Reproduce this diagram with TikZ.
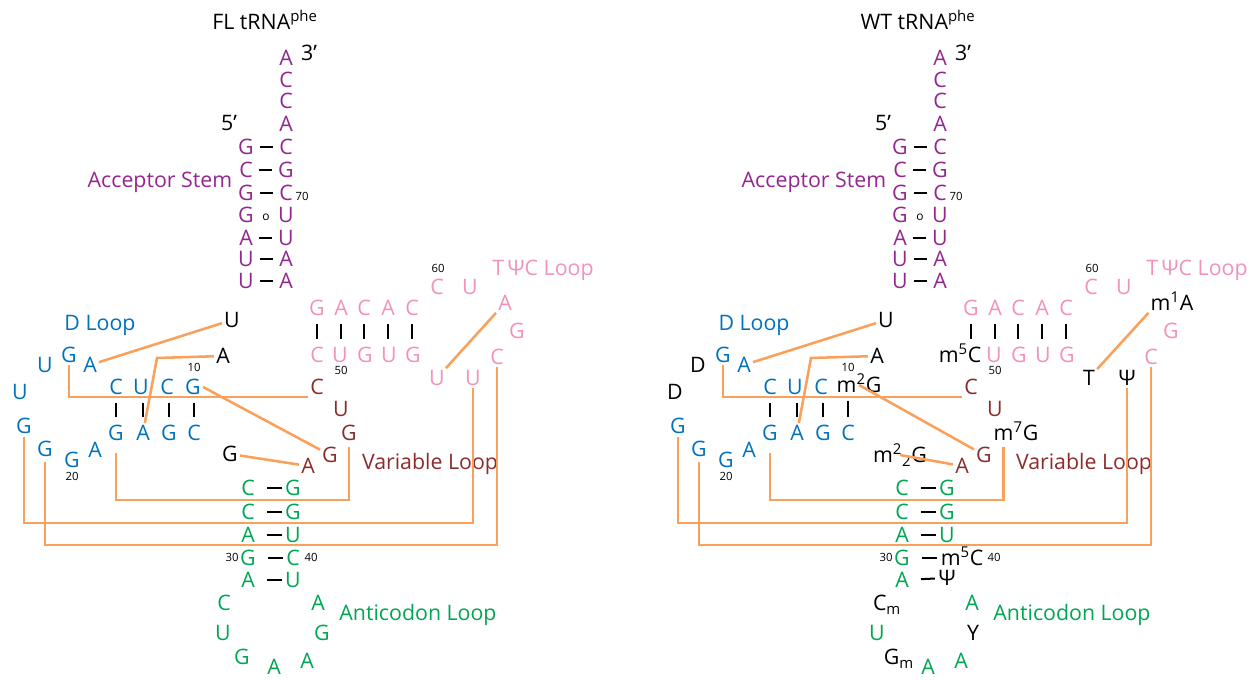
\documentclass[tikz,border=0pt]{standalone}
\usepackage{fontspec}
\setmainfont{Open Sans}
\usepackage{tikz}
\usepackage{xcolor}
\definecolor{accpurple}{HTML}{93278F}
\definecolor{dblue}{HTML}{0072BC}
\definecolor{tpink}{HTML}{F291BC}
\definecolor{vbrown}{HTML}{8A2C2C}
\definecolor{agreen}{HTML}{00A651}
\definecolor{tertorange}{HTML}{F9A05A}

% bases shared by both molecules, named <prefix>-n<position>
\newcommand{\trnabases}[1]{%
  % acceptor stem
  \foreach \n/\y/\l/\r in {1/147/G/C,2/170/C/G,3/193/G/C,4/215/G/U,5/238/A/U,6/259/U/A,7/281/U/A}{
    \node[acc] (#1-a\n) at (246,\y) {\l};
    \node[acc] (#1-b\n) at (286,\y) {\r};
  }
  \foreach \k/\y/\l in {73/124/A,74/101/C,75/80/C,76/58/A}
    \node[acc] (#1-n\k) at (286,\y) {\l};
  \node[lbl] (#1-p3) at (309,53) {3’};
  \node[lbl] (#1-p5) at (229,123) {5’};
  \node[acc] (#1-accl) at (160,180) {Acceptor Stem};
  \node[num] (#1-c70) at (302,197) {70};
  \node[wob] (#1-gu) at (266,217) {o};
  % D arm
  \node[lbl] (#1-n8) at (232,320) {U};
  \node[lbl] (#1-n9) at (223,356) {A};
  \foreach \n/\x/\l in {11/167/C,12/141/U,13/116/C}
    \node[dlp] (#1-n\n) at (\x,387) {\l};
  \foreach \n/\x/\l in {22/116/G,23/143/A,24/169/G,25/194/C}
    \node[dlp] (#1-n\n) at (\x,433) {\l};
  \foreach \n/\x/\y/\l in {14/90/365/A,15/69/355/G,18/24/426/G,19/45/449/G,20/72/460/G,21/95/450/A}
    \node[dlp] (#1-n\n) at (\x,\y) {\l};
  \node[dlp] (#1-dl) at (100,323) {D Loop};
  \node[num] (#1-c10) at (194,368) {10};
  \node[num] (#1-c20) at (72,477) {20};
  % anticodon arm
  \foreach \n/\y/\l in {27/488/C,28/512/C,29/535/A,30/558/G,31/580/A}
    \node[anc] (#1-n\n) at (248,\y) {\l};
  \foreach \n/\y/\l in {43/488/G,42/512/G,41/535/U}
    \node[anc] (#1-n\n) at (293,\y) {\l};
  \foreach \n/\x/\y/\l in {33/223/633/U,35/274/667/A,36/307/661/A,38/318/603/A}
    \node[anc] (#1-n\n) at (\x,\y) {\l};
  \node[anc] (#1-al) at (418,613) {Anticodon Loop};
  \node[num] (#1-c30) at (232,558) {30};
  % variable loop
  \foreach \n/\x/\y/\l in {44/308/466/A,45/330/455/G,47/341/409/U,48/317/387/C}
    \node[vlp] (#1-n\n) at (\x,\y) {\l};
  \node[vlp] (#1-vl) at (430,462) {Variable Loop};
  % T arm
  \foreach \n/\x/\l in {65/317/G,64/341/A,63/364/C,62/388/A,61/412/C}
    \node[tlp] (#1-n\n) at (\x,308) {\l};
  \foreach \n/\x/\l in {50/340/U,51/365/G,52/389/U,53/413/G}
    \node[tlp] (#1-n\n) at (\x,355) {\l};
  \foreach \n/\x/\y/\l in {56/497/357/C,57/517/331/G,59/470/287/U,60/437/287/C}
    \node[tlp] (#1-n\n) at (\x,\y) {\l};
  \node[tlp] (#1-tl) at (543,268) {T\,ΨC Loop};
  \node[num] (#1-c50) at (341,371) {50};
  \node[num] (#1-c60) at (438,269) {60};
}

% base pairs of the four stems
\newcommand{\trnapairs}[1]{%
  \foreach \n in {1,2,3,5,6,7}
    \draw[bond] (#1-a\n) -- (#1-b\n);
  \foreach \a/\b in {22/13,23/12,24/11,25/10}
    \draw[vbar] (#1-n\a) -- (#1-n\a |- #1-n\b);
  \foreach \a/\b in {65/49,64/50,63/51,62/52,61/53}
    \draw[vbar] (#1-n\a) -- (#1-n\a |- #1-n\b);
  \foreach \a/\b in {27/43,28/42,29/41,30/40,31/39}
    \draw[acbond] (#1-n\a) -- (#1-n\b);
}

\begin{document}
\begin{tikzpicture}[x=0.75pt,y=-0.75pt,
  nt/.style={font=\fontsize{16}{19}\selectfont, text height=11.4pt, text depth=0pt, inner sep=1.5pt},
  lbl/.style={nt, text=black},
  acc/.style={nt, text=accpurple},
  dlp/.style={nt, text=dblue},
  tlp/.style={nt, text=tpink},
  vlp/.style={nt, text=vbrown},
  anc/.style={nt, text=agreen},
  num/.style={font=\fontsize{8.5}{10}\selectfont, text height=6pt, text depth=0pt, inner sep=0pt},
  wob/.style={font=\fontsize{9}{10}\selectfont, inner sep=0pt},
  bond/.style={line width=1.5pt, shorten <=3pt, shorten >=3pt},
  acbond/.style={line width=1.5pt, shorten <=7.5pt, shorten >=1pt},
  vbar/.style={line width=1.5pt, shorten <=4.5pt, shorten >=12pt},
  tert/.style={tertorange, line width=1.9pt}]
\useasboundingbox (0,0) rectangle (1257,680);

% FL tRNA
\node[lbl] (L-title) at (265,22) {FL tRNA\textsuperscript{phe}};
\trnabases{L}
\node[dlp] (L-n16) at (45,365) {U};
\node[dlp] (L-n17) at (20,392) {U};
\node[dlp] (L-n10) at (193,387) {G};
\node[lbl] (L-n26) at (230,454) {G};
\node[tlp] (L-n49) at (317,355) {C};
\node[vlp] (L-n46) at (349,433) {G};
\node[tlp] (L-n58) at (505,303) {A};
\node[tlp] (L-n54) at (437,378) {U};
\node[tlp] (L-n55) at (473,378) {U};
\node[anc] (L-n40) at (293,558) {C};
\node[num] (L-c40) at (311,558) {40};
\node[anc] (L-n39) at (293,580) {U};
\node[anc] (L-n32) at (224,603) {C};
\node[anc] (L-n34) at (242,657) {G};
\node[anc] (L-n37) at (322,633) {G};
\trnapairs{L}
% tertiary contacts
\coordinate (L-k9) at (157,358);
\coordinate (L-h22) at (200,500);
\coordinate (L-h18) at (200,523);
\coordinate (L-h19) at (200,545);
\draw[tert] (L-n14) -- (L-n8);
\draw[tert] (L-n23) -- (L-k9) -- (L-n9);
\draw[tert] (L-n15.south) |- (L-n48.south west);
\draw[tert] (L-n10.east) -- (L-n45);
\draw[tert] (L-n26) -- (L-n44);
\draw[tert] (L-n58.south west) -- (L-n54);
\draw[tert] ([yshift=-7.5pt]L-n22.south) |- (L-h22) -| ([yshift=-3pt]L-n46.south);
\draw[tert] ([yshift=-1pt]L-n18.south) |- (L-h18) -| (L-n55.south);
\draw[tert] ([yshift=-2.5pt]L-n19.south) |- (L-h19) -| (L-n56.south);

% WT tRNA
\begin{scope}[shift={(654,0)}]
\node[lbl] (R-title) at (264,22) {WT tRNA\textsuperscript{phe}};
\trnabases{R}
\node[lbl] (R-n16) at (44,365) {D};
\node[lbl] (R-n17) at (21,392) {D};
\node[lbl] (R-n10) at (205,385) {m\textsuperscript{2}G};
\node[lbl] (R-n26) at (246,455) {m\textsuperscript{2}\textsubscript{2}G};
\node[lbl] (R-n49) at (306,355) {m\textsuperscript{5}C};
\node[lbl] (R-n46) at (362,433) {m\textsuperscript{7}G};
\node[lbl] (R-n58) at (518,303) {m\textsuperscript{1}A};
\node[lbl] (R-n54) at (435,378) {T};
\node[lbl] (R-n55) at (473,378) {Ψ};
\node[lbl] (R-n40) at (308,558) {m\textsuperscript{5}C};
\node[num] (R-c40) at (340,558) {40};
\node[lbl] (R-n39) at (293,578) {Ψ};
\node[lbl] (R-n32) at (233,603) {C\textsubscript{m}};
\node[lbl] (R-n34) at (245,657) {G\textsubscript{m}};
\node[lbl] (R-n37) at (319,633) {Y};
\trnapairs{R}
% tertiary contacts
\coordinate (R-k9) at (157,358);
\coordinate (R-h22) at (200,500);
\coordinate (R-h18) at (200,523);
\coordinate (R-h19) at (200,545);
\draw[tert] (R-n14) -- (R-n8);
\draw[tert] (R-n23) -- (R-k9) -- (R-n9);
\draw[tert] (R-n15.south) |- (R-n48.south west);
\draw[tert] (R-n10.center) -- (R-n45);
\draw[tert] (R-n26.center) -- (R-n44);
\draw[tert] (R-n58.south west) -- (R-n54);
\draw[tert] ([yshift=-7.5pt]R-n22.south) |- (R-h22) -| ([xshift=-9.4pt,yshift=-3pt]R-n46.south);
\draw[tert] ([yshift=-1pt]R-n18.south) |- (R-h18) -| (R-n55.south);
\draw[tert] ([yshift=-2.5pt]R-n19.south) |- (R-h19) -| (R-n56.south);
\end{scope}
\end{tikzpicture}
\end{document}
